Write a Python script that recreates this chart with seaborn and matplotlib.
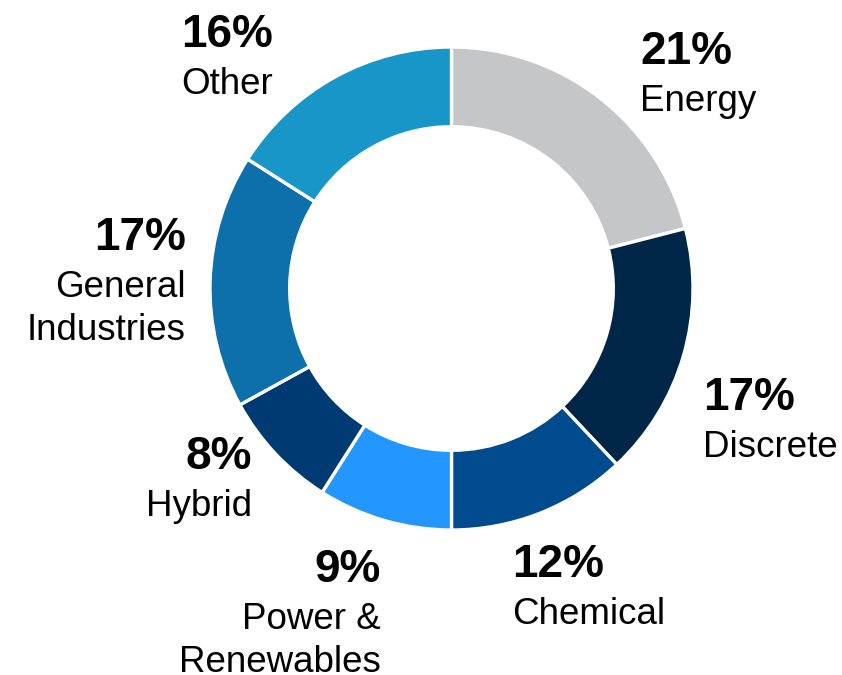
import matplotlib
matplotlib.use("Agg")
import matplotlib.pyplot as plt
import seaborn as sns

categories = ["Energy", "Discrete", "Chemical", "Power &\nRenewables", "Hybrid",
              "General\nIndustries", "Other"]
values = [21, 17, 12, 9, 8, 17, 16]
colors = ["#C5C6C8", "#002647", "#004B8D", "#2396FF", "#003A73", "#0D70AB", "#1896C8"]

sns.set_theme(style="white")
plt.rcParams["font.family"] = ["Liberation Sans", "DejaVu Sans"]

W, H = 842, 675
fig = plt.figure(figsize=(W / 100, H / 100), dpi=100)
ax = fig.add_axes([0, 0, 1, 1])

cx, cy, R = 451.5, 288.5, 241.5
ax.pie(values, colors=colors, startangle=90, counterclock=False, radius=1,
       wedgeprops=dict(width=0.33, edgecolor="white", linewidth=2.4))
ax.set_xlim(-cx / R, (W - cx) / R)
ax.set_ylim(-(H - cy) / R, cy / R)
ax.set_aspect("auto")
ax.axis("off")

# label layout: (x px, baseline of pct px, alignment)
layout = [
    (640, 64, "left"),
    (703, 410, "left"),
    (512, 577, "left"),
    (381, 582, "right"),
    (252, 469, "right"),
    (186, 250, "right"),
    (181, 47, "left"),
]
for cat, val, (x, yb, ha) in zip(categories, values, layout):
    fig.text(x / W, 1 - yb / H, f"{val}%", ha=ha, va="baseline",
             fontsize=33, fontweight="bold", color="black")
    for i, line in enumerate(cat.split("\n")):
        fig.text(x / W, 1 - (yb + 47 + i * 43) / H, line, ha=ha, va="baseline",
                 fontsize=26.5, color="black")

fig.savefig("out.png", dpi=100, facecolor="white")
